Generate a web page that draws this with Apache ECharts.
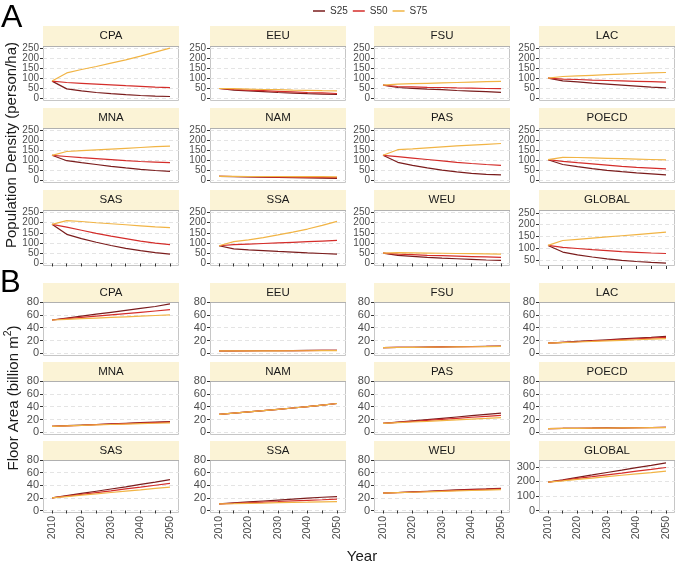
<!DOCTYPE html>
<html><head><meta charset="utf-8">
<script src="https://cdn.jsdelivr.net/npm/echarts@6/dist/echarts.min.js"></script>
<style>html,body{margin:0;padding:0;background:#fff}#c{width:677px;height:565px}</style>
</head><body><div id="c"></div>
<script>
// ---------- DATA ----------
const years = [2010, 2015, 2020, 2025, 2030, 2035, 2040, 2045, 2050];
const regions = ['CPA','EEU','FSU','LAC','MNA','NAM','PAS','POECD','SAS','SSA','WEU','GLOBAL'];
const scenarios = ['S25','S50','S75'];
const xLabelYears = [2010, 2020, 2030, 2040, 2050];
const xTickYears = [2010, 2015, 2020, 2025, 2030, 2035, 2040, 2045, 2050];

// Population density (person/ha), one row per region (order as regions)
const densityS25 = [
  [87,48,38,30,24,19,15,12,10],
  [50,42,38,34,30,27,24,22,20],
  [67,55,51,47,44,40,37,34,31],
  [102,88,83,77,72,67,62,57,53],
  [126,99,89,80,71,63,56,50,46],
  [21,19,18,17,15,14,13,12,11],
  [126,91,76,63,52,43,36,31,28],
  [104,80,69,59,51,44,38,33,28],
  [192,143,122,104,88,74,63,53,46],
  [87,72,67,63,59,56,52,49,46],
  [51,40,35,30,26,23,20,17,15],
  [112,84,72,63,55,49,44,40,37]
];
const densityS50 = [
  [87,80,76,72,68,64,61,57,54],
  [50,45,42,39,36,33,30,28,25],
  [67,60,58,56,55,53,52,50,49],
  [102,97,95,92,90,88,86,84,82],
  [126,120,114,109,104,99,95,92,89],
  [21,20,19,18,17,17,16,15,14],
  [126,119,112,105,98,91,85,80,76],
  [104,96,89,83,77,71,66,62,58],
  [192,178,163,148,134,122,110,100,92],
  [87,92,95,98,101,104,107,110,113],
  [51,46,43,40,38,36,34,32,30],
  [112,104,99,94,90,86,83,80,78]
];
const densityS75 = [
  [87,128,145,160,177,193,212,232,252],
  [50,49,47,45,44,42,41,39,38],
  [67,72,74,76,78,80,82,84,86],
  [102,110,113,116,119,122,125,128,130],
  [126,145,149,153,157,161,165,169,172],
  [21,21,20,20,20,19,19,19,18],
  [126,154,158,163,168,173,177,181,185],
  [104,116,115,113,111,109,107,105,103],
  [192,210,206,200,195,190,185,180,176],
  [87,107,116,127,140,154,169,187,207],
  [51,53,52,51,50,49,48,47,46],
  [112,133,138,143,148,153,158,163,168]
];
// Floor area (billion m2)
const floorS25 = [
  [52,55,58,61,64,67,70,73,77],
  [4,4.1,4.2,4.3,4.4,4.5,4.6,4.7,4.8],
  [9,9.3,9.6,9.9,10.2,10.5,10.8,11.1,11.4],
  [16,17.3,18.6,19.9,21.2,22.5,23.8,25.1,26.5],
  [9.5,10.5,11.4,12.3,13.3,14.2,15.2,16.1,17],
  [28,30,32,34,36,38,40,42.5,45],
  [14,16,18,20,22,24,26,28,30],
  [6,6.2,6.5,6.7,7,7.2,7.5,7.7,8],
  [20,23.5,27,30.5,34,37.5,41.5,45,49],
  [10.5,12,13.5,15,16.5,18,19.5,21,22],
  [27.5,28.5,29.5,30.5,31.5,32.5,33.5,34.2,35],
  [195,211,228,244,261,277,294,310,327]
];
const floorS50 = [
  [52,54,56,58,60,62,64,66,68],
  [4,4,4.1,4.2,4.3,4.4,4.5,4.6,4.6],
  [9,9.3,9.6,9.8,10.1,10.4,10.7,10.9,11.2],
  [16,17.1,18.2,19.4,20.5,21.7,22.8,23.9,25],
  [9.5,10.3,11.1,12,12.8,13.6,14.4,15.2,16],
  [28,30,32,34,36,38,40,42.5,45],
  [14,15.6,17.2,18.8,20.4,22,23.6,25.1,26.5],
  [6,6.2,6.4,6.7,6.9,7.1,7.4,7.6,7.8],
  [20,22.8,25.6,28.4,31.2,34.2,37,40,43],
  [10.5,11.4,12.3,13.3,14.2,15.2,16.1,17,18],
  [27.5,28.3,29.2,30.1,31,31.8,32.6,33.4,34.2],
  [195,207,220,232,245,257,270,282,295]
];
const floorS75 = [
  [52,53,54,55,56,57,58,59,60],
  [4,4,4,4.1,4.1,4.2,4.2,4.3,4.3],
  [9,9.2,9.5,9.7,10,10.2,10.4,10.7,11],
  [16,16.9,17.8,18.6,19.5,20.4,21.3,22.1,23],
  [9.5,10.2,10.9,11.6,12.3,13,13.7,14.3,15],
  [28,30,32,34,36,38,40,42.5,45],
  [14,15.1,16.2,17.3,18.5,19.6,20.7,21.8,23],
  [6,6.2,6.4,6.6,6.8,7,7.2,7.4,7.6],
  [20,22.1,24.2,26.3,28.5,30.6,32.7,34.9,37],
  [10.5,10.9,11.4,11.8,12.3,12.7,13.1,13.6,14],
  [27.5,28.2,28.9,29.6,30.3,31,31.7,32.4,33],
  [195,204,214,223,233,242,251,260,270]
];

// ---------- LAYOUT / STYLE ----------
const FONT = '"Liberation Sans", Arial, sans-serif';
const colors = {S25: '#7a1c1c', S50: '#d42d2a', S75: '#f1b445'};
const colLeft = [43, 210, 374, 539];
const PW = 136;
const XIN = 9; // px from panel edge to 2010/2050
const xPad = XIN * 40 / (PW - 2 * XIN);

const figs = [
  { key: 'A', tops: [46, 128, 210], hs: [55, 55, 56], stripH: 20, yFont: 10,
    series: [densityS25, densityS50, densityS75], showXLabels: false,
    yCfg: i => regions[i] === 'GLOBAL'
      ? {aMin: 25, aMax: 262, tMin: 50, tMax: 250, step: 50}
      : {aMin: -12.5, aMax: 262.5, tMin: 0, tMax: 250, step: 50} },
  { key: 'B', tops: [302, 381, 460], hs: [54, 54, 53], stripH: 19, yFont: 11,
    series: [floorS25, floorS50, floorS75], showXLabels: true,
    yCfg: i => regions[i] === 'GLOBAL'
      ? {aMin: -16.5, aMax: 346.5, tMin: 0, tMax: 300, step: 100}
      : {aMin: -4, aMax: 80, tMin: 0, tMax: 80, step: 20} }
];

const grids = [], xAxes = [], yAxes = [], series = [], graphics = [];
let k = 0;
figs.forEach(fig => {
  regions.forEach((reg, i) => {
    const r = Math.floor(i / 4), c = i % 4;
    const left = colLeft[c], top = fig.tops[r], H = fig.hs[r];
    const y = fig.yCfg(i);
    const span = y.aMax - y.aMin;
    const insTop = (y.aMax - y.tMax) / span * H;
    const insBot = (y.tMin - y.aMin) / span * H;
    const gridH = H - insTop - insBot;
    const bottomRow = r === 2;
    grids.push({left: left, width: PW, top: top + insTop, height: gridH, containLabel: false, outerBoundsMode: 'none'});
    xAxes.push({
      gridIndex: k, type: 'value', min: 2010 - xPad, max: 2050 + xPad,
      offset: insBot,
      axisLine: {show: false},
      splitLine: {show: false},
      axisTick: {show: bottomRow, customValues: xTickYears, length: 3, lineStyle: {color: '#333', width: 1}},
      axisLabel: {show: bottomRow && fig.showXLabels, customValues: xLabelYears, rotate: 90, margin: 3,
                  fontSize: 10.5, color: '#4d4d4d', fontFamily: FONT, formatter: v => String(Math.round(v))}
    });
    yAxes.push({
      gridIndex: k, type: 'value', min: y.tMin, max: y.tMax, interval: y.step,
      axisLine: {show: false},
      axisTick: {show: true, length: 3, lineStyle: {color: '#333', width: 1}},
      axisLabel: {fontSize: fig.yFont, color: '#4d4d4d', margin: 4, fontFamily: FONT},
      splitLine: {show: true, lineStyle: {color: '#e4e4e4', type: [4, 3], width: 1}}
    });
    fig.series.forEach((arr, s) => {
      series.push({
        name: scenarios[s], type: 'line', xAxisIndex: k, yAxisIndex: k,
        data: years.map((yr, j) => [yr, arr[i][j]]),
        symbol: 'none', clip: false, animation: false,
        lineStyle: {width: 1.2, color: colors[scenarios[s]]},
        itemStyle: {color: colors[scenarios[s]]}
      });
    });
    // panel border
    graphics.push({type: 'rect', z: 0, silent: true,
      shape: {x: left + 0.5, y: top + 0.5, width: PW - 1, height: H - 1},
      style: {fill: 'none', stroke: '#c6c6c6', lineWidth: 1}});
    // strip
    graphics.push({type: 'rect', z: 1, silent: true,
      shape: {x: left, y: top - fig.stripH, width: PW, height: fig.stripH},
      style: {fill: '#fbf3d6'}});
    graphics.push({type: 'line', z: 2, silent: true,
      shape: {x1: left, y1: top + 0.5, x2: left + PW, y2: top + 0.5},
      style: {stroke: '#b0b0b0', lineWidth: 1}});
    graphics.push({type: 'text', z: 3, silent: true,
      x: left + PW / 2, y: top - fig.stripH / 2,
      style: {text: reg, fontSize: 11.5, fill: '#1a1a1a', fontFamily: FONT,
              align: 'center', verticalAlign: 'middle'}});
    k++;
  });
});

// titles and panel letters
graphics.push({type: 'text', x: 1, y: 18, style: {text: 'A', fontSize: 32, fill: '#000', fontFamily: FONT, verticalAlign: 'middle'}});
graphics.push({type: 'text', x: 0, y: 283, style: {text: 'B', fontSize: 31, fill: '#000', fontFamily: FONT, verticalAlign: 'middle'}});
graphics.push({type: 'text', x: 12, y: 145, rotation: Math.PI / 2,
  style: {text: 'Population Density (person/ha)', fontSize: 15, fill: '#1a1a1a', fontFamily: FONT, align: 'center', verticalAlign: 'middle'}});
graphics.push({type: 'text', x: 12, y: 398, rotation: Math.PI / 2,
  style: {text: '{a|Floor Area (billion m}{s|2}{a|)}', fontFamily: FONT, align: 'center', verticalAlign: 'middle',
    rich: {a: {fontSize: 15, fill: '#1a1a1a', fontFamily: FONT, lineHeight: 18, verticalAlign: 'bottom'},
           s: {fontSize: 10.5, fill: '#1a1a1a', fontFamily: FONT, lineHeight: 18, verticalAlign: 'top', padding: [0, 0, 6, 0]}}}});
graphics.push({type: 'text', x: 362, y: 557,
  style: {text: 'Year', fontSize: 15, fill: '#1a1a1a', fontFamily: FONT, align: 'center', verticalAlign: 'middle'}});

const chart = echarts.init(document.getElementById('c'), null, {renderer: 'canvas'});
chart.setOption({
  animation: false,
  backgroundColor: '#ffffff',
  legend: {data: scenarios, top: 1, left: 308, icon: 'rect', itemWidth: 12, itemHeight: 1.5, itemGap: 5,
           textStyle: {fontSize: 10, color: '#333', fontFamily: FONT}},
  grid: grids, xAxis: xAxes, yAxis: yAxes, series: series, graphic: graphics
});
</script></body></html>
